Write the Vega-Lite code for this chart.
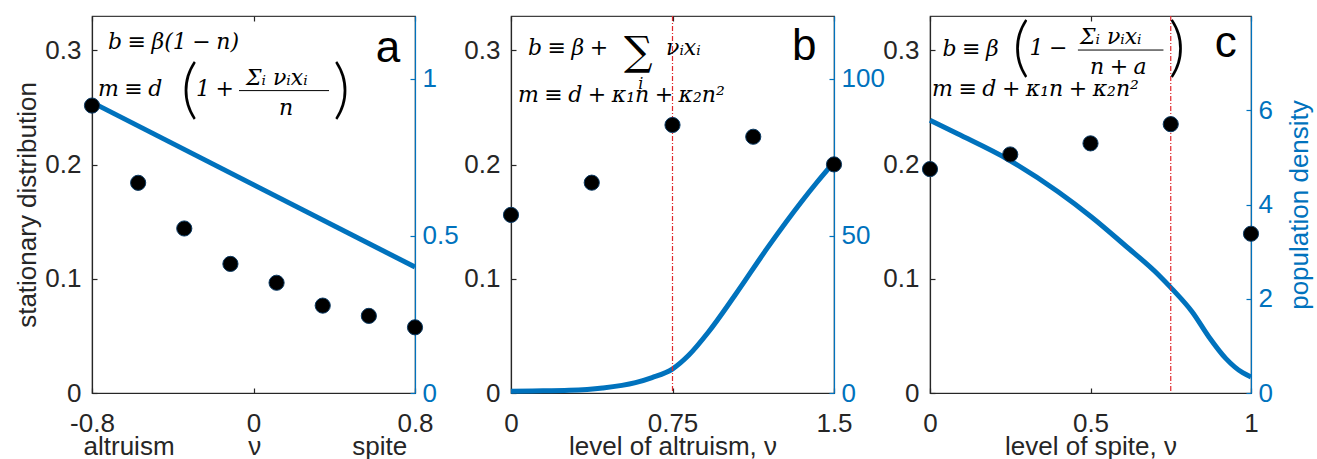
{
  "$schema": "https://vega.github.io/schema/vega-lite/v6.json",
  "background": "white",
  "padding": {"left": 14, "top": 14, "right": 0, "bottom": 0},
  "config": {
    "view": {"stroke": "#404040", "strokeWidth": 1.2},
    "font": "Liberation Sans",
    "axis": {
      "grid": false, "labelFont": "Liberation Sans", "titleFont": "Liberation Sans",
      "labelFontSize": 26, "titleFontSize": 26, "titleFontWeight": "normal",
      "tickSize": -5, "tickWidth": 1.2, "domainWidth": 1.2,
      "domainColor": "#262626", "tickColor": "#262626", "labelColor": "#262626", "titleColor": "#262626",
      "labelFlush": false, "labelOverlap": false
    }
  },
  "datasets": {
    "ptsA": [
      {"nu": -0.8, "s": 0.2516}, {"nu": -0.5714, "s": 0.184}, {"nu": -0.3429, "s": 0.144}, {"nu": -0.1143, "s": 0.113},
      {"nu": 0.1143, "s": 0.0965}, {"nu": 0.3429, "s": 0.0765}, {"nu": 0.5714, "s": 0.0675}, {"nu": 0.8, "s": 0.0575}
    ],
    "lineA": [{"nu": -0.8, "p": 0.925}, {"nu": 0.8, "p": 0.401}],
    "fA": [
      {"nu": -0.7207, "s": 0.3009, "t": "b\u2005≡\u2005β(1\u2005−\u2005n)"},
      {"nu": -0.7703, "s": 0.2598, "t": "m\u2005≡\u2005d"},
      {"nu": -0.2848, "s": 0.2598, "t": "1\u2005+"},
      {"nu": -0.0371, "s": 0.2694, "t": "Σᵢ νᵢxᵢ"},
      {"nu": 0.1264, "s": 0.2431, "t": "n"}
    ],
    "parA": [{"nu": -0.3591, "s": 0.2471, "t": "("}, {"nu": 0.3939, "s": 0.2471, "t": ")"}],
    "barA": [{"nu": -0.0718, "nu2": 0.3741, "s": 0.2647}],
    "letA": [{"nu": 0.6664, "s": 0.2895, "t": "a"}],
    "ptsB": [
      {"nu": 0, "s": 0.1559}, {"nu": 0.375, "s": 0.1841}, {"nu": 0.75, "s": 0.2346}, {"nu": 1.125, "s": 0.2243}, {"nu": 1.5, "s": 0.2001}
    ],
    "lineB": [
      {"nu": 0, "p": 0.55}, {"nu": 0.1, "p": 0.65}, {"nu": 0.271, "p": 0.86}, {"nu": 0.425, "p": 1.6}, {"nu": 0.578, "p": 3.3},
      {"nu": 0.655, "p": 4.9}, {"nu": 0.751, "p": 7.7}, {"nu": 0.825, "p": 12.0}, {"nu": 0.917, "p": 19.4}, {"nu": 1.04, "p": 31.1},
      {"nu": 1.194, "p": 46.5}, {"nu": 1.348, "p": 60.8}, {"nu": 1.42, "p": 67.0}, {"nu": 1.5, "p": 73.5}
    ],
    "fB": [
      {"nu": 0.0785, "s": 0.2956, "t": "b\u2005≡\u2005β\u2005+"},
      {"nu": 0.72, "s": 0.2956, "t": "νᵢxᵢ"},
      {"nu": 0.0323, "s": 0.2545, "t": "m\u2005≡\u2005d\u2005+\u2005κ₁n\u2005+\u2005κ₂n²"}
    ],
    "sigB": [{"nu": 0.5247, "s": 0.287, "t": "∑"}],
    "subB": [{"nu": 0.5908, "s": 0.2659, "t": "i"}],
    "letB": [{"nu": 1.3615, "s": 0.2912, "t": "b"}],
    "vline": [{"nu": 0.75}],
    "ptsC": [
      {"nu": 0, "s": 0.196}, {"nu": 0.25, "s": 0.2088}, {"nu": 0.5, "s": 0.2185}, {"nu": 0.75, "s": 0.2353}, {"nu": 1, "s": 0.1394}
    ],
    "lineC": [
      {"nu": 0, "p": 5.79}, {"nu": 0.086, "p": 5.5}, {"nu": 0.242, "p": 4.96}, {"nu": 0.399, "p": 4.27}, {"nu": 0.504, "p": 3.73},
      {"nu": 0.608, "p": 3.13}, {"nu": 0.713, "p": 2.5}, {"nu": 0.754, "p": 2.21}, {"nu": 0.817, "p": 1.72}, {"nu": 0.869, "p": 1.19},
      {"nu": 0.922, "p": 0.73}, {"nu": 0.974, "p": 0.43}, {"nu": 1.0, "p": 0.34}
    ],
    "fC": [
      {"nu": 0.0387, "s": 0.2953, "t": "b\u2005≡\u2005β"},
      {"nu": 0.3103, "s": 0.2956, "t": "1\u2005−"},
      {"nu": 0.4671, "s": 0.3055, "t": "Σᵢ νᵢxᵢ"},
      {"nu": 0.4984, "s": 0.2793, "t": "n\u2005+\u2005a"},
      {"nu": 0.0063, "s": 0.2603, "t": "m\u2005≡\u2005d\u2005+\u2005κ₁n\u2005+\u2005κ₂n²"}
    ],
    "parC": [{"nu": 0.2571, "s": 0.2838, "t": "("}, {"nu": 0.7429, "s": 0.2838, "t": ")"}],
    "barC": [{"nu": 0.4608, "nu2": 0.7273, "s": 0.3002}],
    "letC": [{"nu": 0.9216, "s": 0.2939, "t": "c"}]
  },
  "spacing": 96,
  "bounds": "flush",
  "hconcat": [
    {
      "width": 323, "height": 377,
      "layer": [
        {
          "data": {"name": "lineA"},
          "mark": {"type": "line", "color": "#0072BD", "strokeWidth": 5},
          "encoding": {
            "x": {"field": "nu", "type": "quantitative", "scale": {"domain": [-0.8, 0.8], "nice": false, "zero": false},
              "axis": {"orient": "top", "values": [-0.8, 0, 0.8], "labels": false, "domain": false, "title": null}},
            "y": {"field": "p", "type": "quantitative", "scale": {"domain": [0, 1.2], "nice": false},
              "axis": {"orient": "right", "values": [0, 0.5, 1], "format": "~g", "title": null, "labelPadding": 12,
                "domainColor": "#0072BD", "tickColor": "#0072BD", "labelColor": "#0072BD"}}
          }
        },
        {
          "layer": [
            {
              "data": {"name": "ptsA"},
              "mark": {"type": "circle", "size": 230, "opacity": 1, "fill": "black", "stroke": "#0b3a63", "strokeWidth": 1},
              "encoding": {
                "x": {"field": "nu", "type": "quantitative", "scale": {"domain": [-0.8, 0.8], "nice": false, "zero": false},
                  "axis": {"values": [-0.8, 0, 0.8], "format": "~g", "labelExpr": "replace(datum.label, '−', '-')", "labelPadding": 22,
                    "title": "altruism\u2003\u2003\u2002\u2004ν\u2003\u2003\u2003\u2002spite\u2002\u2006\u200b", "titlePadding": -3}},
                "y": {"field": "s", "type": "quantitative", "scale": {"domain": [0, 0.33], "nice": false},
                  "axis": {"values": [0, 0.1, 0.2, 0.3], "format": "~g", "labelPadding": 16, "title": "stationary distribution", "titlePadding": 4}}
              }
            },
            {
              "data": {"name": "fA"},
              "mark": {"type": "text", "clip": true, "font": "DejaVu Serif", "fontStyle": "italic", "fontSize": 22, "align": "left", "baseline": "alphabetic", "color": "black"},
              "encoding": {
                "x": {"field": "nu", "type": "quantitative", "scale": {"domain": [-0.8, 0.8], "nice": false, "zero": false}},
                "y": {"field": "s", "type": "quantitative", "scale": {"domain": [0, 0.33], "nice": false}},
                "text": {"field": "t"}
              }
            },
            {
              "data": {"name": "parA"},
              "mark": {"type": "text", "clip": true, "font": "Lato", "fontWeight": 300, "fontSize": 66, "align": "left", "baseline": "alphabetic", "color": "black"},
              "encoding": {
                "x": {"field": "nu", "type": "quantitative", "scale": {"domain": [-0.8, 0.8], "nice": false, "zero": false}},
                "y": {"field": "s", "type": "quantitative", "scale": {"domain": [0, 0.33], "nice": false}},
                "text": {"field": "t"}
              }
            },
            {
              "data": {"name": "barA"},
              "mark": {"type": "rule", "clip": true, "color": "black", "strokeWidth": 1},
              "encoding": {
                "x": {"field": "nu", "type": "quantitative", "scale": {"domain": [-0.8, 0.8], "nice": false, "zero": false}},
                "x2": {"field": "nu2"},
                "y": {"field": "s", "type": "quantitative", "scale": {"domain": [0, 0.33], "nice": false}}
              }
            },
            {
              "data": {"name": "letA"},
              "mark": {"type": "text", "clip": true, "font": "Liberation Sans", "fontSize": 44, "align": "center", "baseline": "alphabetic", "color": "black"},
              "encoding": {
                "x": {"field": "nu", "type": "quantitative", "scale": {"domain": [-0.8, 0.8], "nice": false, "zero": false}},
                "y": {"field": "s", "type": "quantitative", "scale": {"domain": [0, 0.33], "nice": false}},
                "text": {"field": "t"}
              }
            }
          ]
        }
      ],
      "resolve": {"scale": {"y": "independent"}, "axis": {"x": "independent"}}
    },
    {
      "width": 323, "height": 377,
      "layer": [
        {
          "data": {"name": "lineB"},
          "mark": {"type": "line", "color": "#0072BD", "strokeWidth": 5, "interpolate": "monotone"},
          "encoding": {
            "x": {"field": "nu", "type": "quantitative", "scale": {"domain": [0, 1.5], "nice": false, "zero": false},
              "axis": {"orient": "top", "values": [0, 0.75, 1.5], "labels": false, "domain": false, "title": null}},
            "y": {"field": "p", "type": "quantitative", "scale": {"domain": [0, 120], "nice": false},
              "axis": {"orient": "right", "values": [0, 50, 100], "format": "d", "title": null, "labelPadding": 12,
                "domainColor": "#0072BD", "tickColor": "#0072BD", "labelColor": "#0072BD"}}
          }
        },
        {
          "layer": [
            {
              "data": {"name": "vline"},
              "mark": {"type": "rule", "color": "#e0262b", "strokeWidth": 1.2, "strokeDash": [5, 2, 1, 2]},
              "encoding": {
                "x": {"field": "nu", "type": "quantitative", "scale": {"domain": [0, 1.5], "nice": false, "zero": false}}
              }
            },
            {
              "data": {"name": "ptsB"},
              "mark": {"type": "circle", "size": 230, "opacity": 1, "fill": "black", "stroke": "#0b3a63", "strokeWidth": 1},
              "encoding": {
                "x": {"field": "nu", "type": "quantitative", "scale": {"domain": [0, 1.5], "nice": false, "zero": false},
                  "axis": {"values": [0, 0.75, 1.5], "format": "~g", "labelPadding": 22, "title": "level of altruism, ν", "titlePadding": -3}},
                "y": {"field": "s", "type": "quantitative", "scale": {"domain": [0, 0.33], "nice": false},
                  "axis": {"values": [0, 0.1, 0.2, 0.3], "format": "~g", "labelPadding": 16, "title": null}}
              }
            },
            {
              "data": {"name": "fB"},
              "mark": {"type": "text", "clip": true, "font": "DejaVu Serif", "fontStyle": "italic", "fontSize": 22, "align": "left", "baseline": "alphabetic", "color": "black"},
              "encoding": {
                "x": {"field": "nu", "type": "quantitative", "scale": {"domain": [0, 1.5], "nice": false, "zero": false}},
                "y": {"field": "s", "type": "quantitative", "scale": {"domain": [0, 0.33], "nice": false}},
                "text": {"field": "t"}
              }
            },
            {
              "data": {"name": "sigB"},
              "mark": {"type": "text", "clip": true, "font": "DejaVu Serif", "fontSize": 40, "align": "left", "baseline": "alphabetic", "color": "black"},
              "encoding": {
                "x": {"field": "nu", "type": "quantitative", "scale": {"domain": [0, 1.5], "nice": false, "zero": false}},
                "y": {"field": "s", "type": "quantitative", "scale": {"domain": [0, 0.33], "nice": false}},
                "text": {"field": "t"}
              }
            },
            {
              "data": {"name": "subB"},
              "mark": {"type": "text", "clip": true, "font": "DejaVu Serif", "fontStyle": "italic", "fontSize": 16, "align": "left", "baseline": "alphabetic", "color": "black"},
              "encoding": {
                "x": {"field": "nu", "type": "quantitative", "scale": {"domain": [0, 1.5], "nice": false, "zero": false}},
                "y": {"field": "s", "type": "quantitative", "scale": {"domain": [0, 0.33], "nice": false}},
                "text": {"field": "t"}
              }
            },
            {
              "data": {"name": "letB"},
              "mark": {"type": "text", "clip": true, "font": "Liberation Sans", "fontSize": 44, "align": "center", "baseline": "alphabetic", "color": "black"},
              "encoding": {
                "x": {"field": "nu", "type": "quantitative", "scale": {"domain": [0, 1.5], "nice": false, "zero": false}},
                "y": {"field": "s", "type": "quantitative", "scale": {"domain": [0, 0.33], "nice": false}},
                "text": {"field": "t"}
              }
            }
          ]
        }
      ],
      "resolve": {"scale": {"y": "independent"}, "axis": {"x": "independent"}}
    },
    {
      "width": 321, "height": 377,
      "layer": [
        {
          "data": {"name": "lineC"},
          "mark": {"type": "line", "color": "#0072BD", "strokeWidth": 5, "interpolate": "monotone"},
          "encoding": {
            "x": {"field": "nu", "type": "quantitative", "scale": {"domain": [0, 1], "nice": false, "zero": false},
              "axis": {"orient": "top", "values": [0, 0.5, 1], "labels": false, "domain": false, "title": null}},
            "y": {"field": "p", "type": "quantitative", "scale": {"domain": [0, 8], "nice": false},
              "axis": {"orient": "right", "values": [0, 2, 4, 6], "format": "~g", "title": "population density", "labelPadding": 12,
                "titleAngle": 270, "titleBaseline": "top", "titlePadding": 14, "titleColor": "#0072BD",
                "domainColor": "#0072BD", "tickColor": "#0072BD", "labelColor": "#0072BD"}}
          }
        },
        {
          "layer": [
            {
              "data": {"name": "vline"},
              "mark": {"type": "rule", "color": "#e0262b", "strokeWidth": 1.2, "strokeDash": [5, 2, 1, 2]},
              "encoding": {
                "x": {"field": "nu", "type": "quantitative", "scale": {"domain": [0, 1], "nice": false, "zero": false}}
              }
            },
            {
              "data": {"name": "ptsC"},
              "mark": {"type": "circle", "size": 230, "opacity": 1, "fill": "black", "stroke": "#0b3a63", "strokeWidth": 1},
              "encoding": {
                "x": {"field": "nu", "type": "quantitative", "scale": {"domain": [0, 1], "nice": false, "zero": false},
                  "axis": {"values": [0, 0.5, 1], "format": "~g", "labelPadding": 22, "title": "level of spite, ν", "titlePadding": -3}},
                "y": {"field": "s", "type": "quantitative", "scale": {"domain": [0, 0.33], "nice": false},
                  "axis": {"values": [0, 0.1, 0.2, 0.3], "format": "~g", "labelPadding": 16, "title": null}}
              }
            },
            {
              "data": {"name": "fC"},
              "mark": {"type": "text", "clip": true, "font": "DejaVu Serif", "fontStyle": "italic", "fontSize": 22, "align": "left", "baseline": "alphabetic", "color": "black"},
              "encoding": {
                "x": {"field": "nu", "type": "quantitative", "scale": {"domain": [0, 1], "nice": false, "zero": false}},
                "y": {"field": "s", "type": "quantitative", "scale": {"domain": [0, 0.33], "nice": false}},
                "text": {"field": "t"}
              }
            },
            {
              "data": {"name": "parC"},
              "mark": {"type": "text", "clip": true, "font": "Lato", "fontWeight": 300, "fontSize": 66, "align": "left", "baseline": "alphabetic", "color": "black"},
              "encoding": {
                "x": {"field": "nu", "type": "quantitative", "scale": {"domain": [0, 1], "nice": false, "zero": false}},
                "y": {"field": "s", "type": "quantitative", "scale": {"domain": [0, 0.33], "nice": false}},
                "text": {"field": "t"}
              }
            },
            {
              "data": {"name": "barC"},
              "mark": {"type": "rule", "clip": true, "color": "black", "strokeWidth": 1},
              "encoding": {
                "x": {"field": "nu", "type": "quantitative", "scale": {"domain": [0, 1], "nice": false, "zero": false}},
                "x2": {"field": "nu2"},
                "y": {"field": "s", "type": "quantitative", "scale": {"domain": [0, 0.33], "nice": false}}
              }
            },
            {
              "data": {"name": "letC"},
              "mark": {"type": "text", "clip": true, "font": "Liberation Sans", "fontSize": 44, "align": "center", "baseline": "alphabetic", "color": "black"},
              "encoding": {
                "x": {"field": "nu", "type": "quantitative", "scale": {"domain": [0, 1], "nice": false, "zero": false}},
                "y": {"field": "s", "type": "quantitative", "scale": {"domain": [0, 0.33], "nice": false}},
                "text": {"field": "t"}
              }
            }
          ]
        }
      ],
      "resolve": {"scale": {"y": "independent"}, "axis": {"x": "independent"}}
    }
  ]
}
